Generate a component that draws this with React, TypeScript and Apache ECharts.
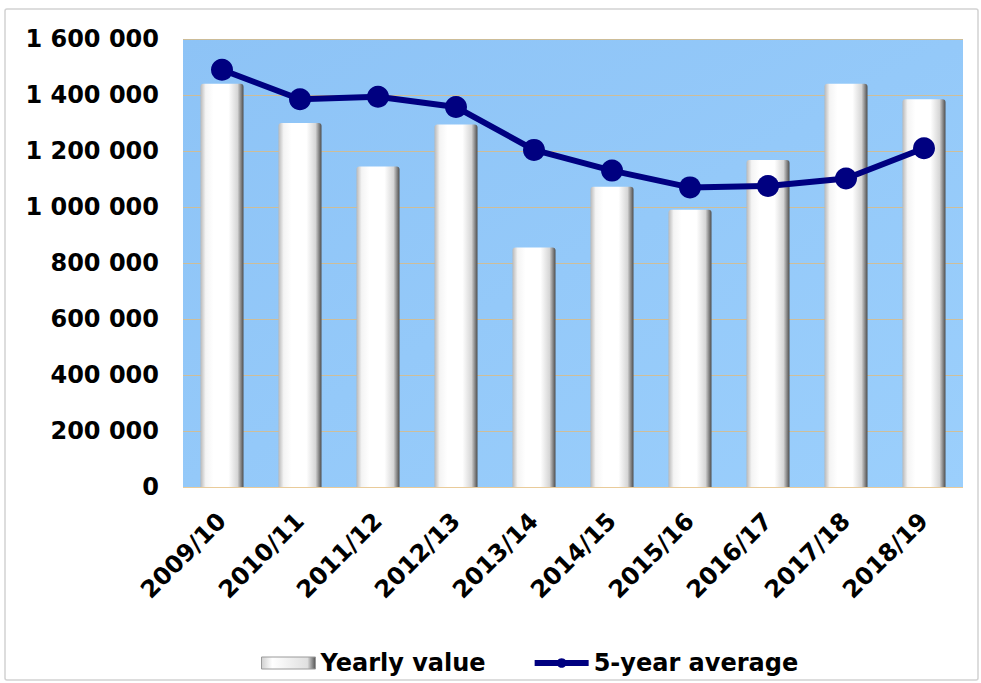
import React, { useEffect, useRef } from "react";
import * as echarts from "echarts";

const categories = ["2009/10", "2010/11", "2011/12", "2012/13", "2013/14", "2014/15", "2015/16", "2016/17", "2017/18", "2018/19"];
const yearlyValues = [1440000, 1300000, 1145000, 1295000, 855000, 1072000, 990000, 1168000, 1440000, 1385000];
const fiveYearAverage = [1490000, 1385000, 1394000, 1357000, 1204000, 1130000, 1070000, 1075000, 1102000, 1210000];
const yTicks = { min: 0, max: 1600000, interval: 200000 };
const seriesNames = ["Yearly value", "5-year average"];

const FONT = "'DejaVu Sans', Tahoma, sans-serif";

export default function App() {
  const ref = useRef<HTMLDivElement>(null);
  useEffect(() => {
    if (!ref.current) return;
    const chart = echarts.init(ref.current, undefined, { renderer: "svg" });
    const barGradient = new echarts.graphic.LinearGradient(0, 0, 1, 0, [
      { offset: 0, color: "#b8b8b8" },
      { offset: 0.12, color: "#f4f4f4" },
      { offset: 0.3, color: "#ffffff" },
      { offset: 0.65, color: "#ffffff" },
      { offset: 0.86, color: "#d6d6d6" },
      { offset: 1, color: "#4d4d4d" },
    ]);
    const legendBarGradient = new echarts.graphic.LinearGradient(0, 0, 1, 0, [
      { offset: 0, color: "#d0d0d0" },
      { offset: 0.2, color: "#ffffff" },
      { offset: 0.85, color: "#e0e0e0" },
      { offset: 1, color: "#555555" },
    ]);
    chart.setOption({
      animation: false,
      backgroundColor: "#ffffff",
      textStyle: { fontFamily: FONT },
      graphic: [
        {
          type: "rect",
          shape: { x: 5, y: 9, width: 973, height: 671, r: 2 },
          style: { fill: "none", stroke: "#d2d2d2", lineWidth: 1.5 },
          silent: true,
          z: -1,
        },
      ],
      grid: {
        left: 183,
        right: 18,
        top: 39,
        bottom: 196,
        show: true,
        borderWidth: 0,
        backgroundColor: new echarts.graphic.LinearGradient(0, 0, 1, 1, [
          { offset: 0, color: "#8dc3f6" },
          { offset: 1, color: "#9bcffc" },
        ]),
      },
      legend: {
        left: 256,
        top: 646,
        itemGap: 46,
        itemWidth: 54,
        itemHeight: 12,
        textStyle: { fontFamily: FONT, fontSize: 24, fontWeight: "bold", color: "#000" },
        data: [
          {
            name: seriesNames[0],
            icon: "rect",
            itemStyle: { color: legendBarGradient, borderColor: "#9a9a9a", borderWidth: 1 },
          },
          {
            name: seriesNames[1],
            lineStyle: { color: "#000080", width: 6 },
          },
        ],
      },
      xAxis: {
        type: "category",
        data: categories,
        axisLine: { show: false },
        axisTick: { show: false },
        axisLabel: {
          rotate: 45,
          interval: 0,
          margin: 30,
          fontFamily: FONT,
          fontSize: 24,
          fontWeight: "bold",
          color: "#000",
        },
      },
      yAxis: {
        type: "value",
        min: yTicks.min,
        max: yTicks.max,
        interval: yTicks.interval,
        axisLine: { show: false },
        axisTick: { show: false },
        splitLine: { lineStyle: { color: "rgba(225,185,120,0.75)", width: 1 } },
        axisLabel: {
          margin: 24,
          fontFamily: FONT,
          fontSize: 24,
          fontWeight: "bold",
          color: "#000",
          formatter: (v: number) => String(v).replace(/\B(?=(\d{3})+(?!\d))/g, " "),
        },
      },
      series: [
        {
          name: seriesNames[0],
          type: "bar",
          data: yearlyValues,
          barWidth: 43,
          itemStyle: { color: barGradient, borderRadius: [3, 3, 0, 0] },
          z: 2,
        },
        {
          name: seriesNames[1],
          type: "line",
          data: fiveYearAverage,
          symbol: "circle",
          symbolSize: 22,
          lineStyle: { color: "#000080", width: 6 },
          itemStyle: { color: "#000080" },
          z: 3,
        },
      ],
    });
    return () => chart.dispose();
  }, []);
  return (
    <div
      ref={ref}
      style={{ position: "absolute", left: 0, top: 0, width: 981, height: 683 }}
    />
  );
}
